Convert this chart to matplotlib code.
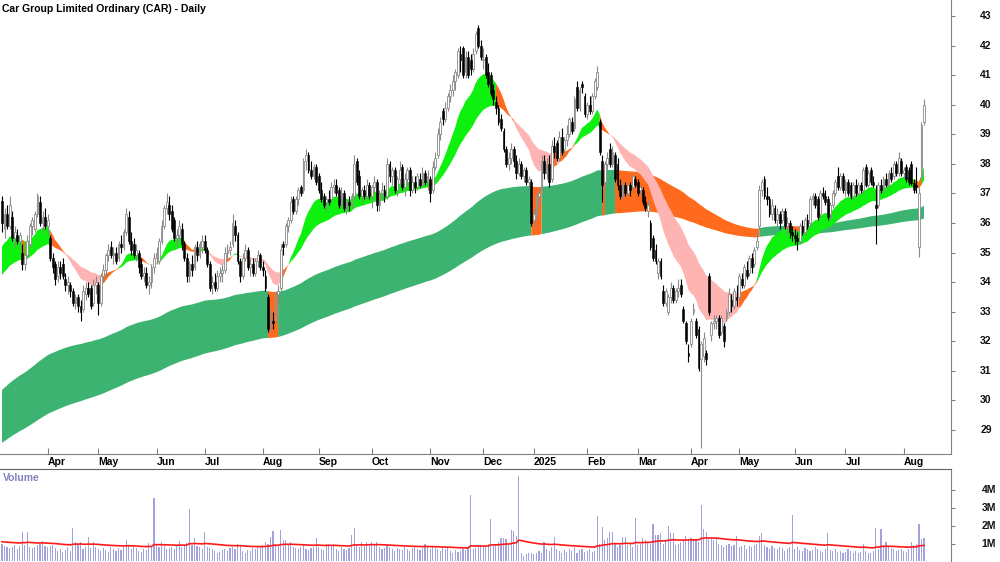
import numpy as np
import pandas as pd
import matplotlib
matplotlib.use("Agg")
import matplotlib.pyplot as plt
from matplotlib.transforms import blended_transform_factory

plt.rcParams['font.family'] = ['Liberation Sans', 'DejaVu Sans']

TITLE = "Car Group Limited Ordinary (CAR) - Daily"

# ASX trading calendar (holidays removed)
holidays = ['2024-03-29', '2024-04-01', '2024-04-25', '2024-06-10', '2024-12-25',
            '2024-12-26', '2025-01-01', '2025-01-27', '2025-04-18', '2025-04-21',
            '2025-04-25', '2025-06-09']

# ---- daily OHLC (open, high, low, close) ----
ohlc_2024_03 = [(36.75, 36.9, 35.7, 36.0), (35.8, 36.5, 35.5, 36.3), (36.3, 36.6, 35.8, 35.9),
                (35.9, 36.9, 35.8, 36.6), (36.2, 36.4, 35.4, 35.5), (35.5, 35.9, 35.2, 35.7),
                (35.6, 35.8, 35.3, 35.4), (35.4, 35.7, 35.1, 35.6), (35.0, 35.3, 34.4, 34.6),
                (34.6, 35.0, 34.4, 34.9), (34.9, 35.6, 34.8, 35.4), (35.3, 36.0, 35.2, 35.9),
                (35.9, 36.2, 35.6, 36.1), (35.8, 36.4, 35.7, 36.3), (36.3, 37.0, 36.2, 36.9),
                (36.7, 36.9, 35.9, 36.0), (36.0, 36.4, 35.7, 36.2), (36.2, 36.5, 35.8, 35.9)]
ohlc_2024_04 = [(35.9, 36.3, 35.6, 36.1), (35.5, 35.6, 34.7, 34.8), (34.8, 35.0, 34.3, 34.5),
                (34.6, 34.7, 33.9, 34.1), (34.2, 34.7, 34.0, 34.5), (34.5, 34.7, 34.1, 34.3),
                (34.6, 34.8, 34.1, 34.2), (34.1, 34.3, 33.7, 33.9), (33.9, 34.2, 33.6, 34.0),
                (33.9, 34.0, 33.5, 33.7), (33.7, 33.8, 33.2, 33.3), (33.3, 33.6, 33.1, 33.5),
                (33.5, 33.6, 33.0, 33.2), (33.2, 33.4, 32.7, 33.0), (33.1, 33.9, 33.0, 33.7),
                (33.6, 34.0, 33.4, 33.8), (33.8, 34.0, 33.5, 33.6), (33.8, 33.9, 33.1, 33.2),
                (33.3, 34.1, 33.2, 33.9), (33.9, 34.2, 33.6, 34.0)]
ohlc_2024_05 = [(33.9, 34.0, 32.9, 33.3), (33.3, 34.3, 33.2, 34.2), (34.2, 34.6, 34.0, 34.4),
                (34.4, 35.0, 34.2, 34.9), (34.9, 35.3, 34.7, 35.1), (35.2, 35.4, 34.8, 34.9),
                (34.9, 35.2, 34.6, 35.0), (35.0, 35.2, 34.6, 34.7), (34.8, 35.4, 34.7, 35.3),
                (35.3, 35.6, 35.0, 35.2), (35.2, 35.8, 35.1, 35.7), (35.7, 36.5, 35.6, 36.3),
                (36.2, 36.4, 35.3, 35.4), (35.4, 35.7, 34.9, 35.1), (35.3, 35.5, 34.8, 34.9),
                (34.9, 35.3, 34.7, 35.1), (35.0, 35.1, 34.3, 34.5), (34.6, 34.8, 34.1, 34.2),
                (34.2, 34.5, 34.0, 34.3), (34.3, 34.5, 33.8, 33.9), (33.9, 34.2, 33.6, 34.0),
                (34.0, 34.6, 33.8, 34.5), (34.5, 35.0, 34.3, 34.8)]
ohlc_2024_06 = [(34.8, 35.2, 34.6, 35.0), (34.7, 35.5, 34.6, 35.4), (35.4, 36.1, 35.3, 35.9),
                (35.9, 36.6, 35.8, 36.5), (36.5, 37.0, 36.3, 36.7), (36.6, 36.9, 36.1, 36.3),
                (36.4, 36.6, 35.7, 35.8), (36.1, 36.2, 35.4, 35.5), (35.5, 35.8, 35.2, 35.6),
                (35.6, 36.1, 35.4, 35.9), (35.8, 36.0, 35.1, 35.3), (35.3, 35.4, 34.7, 34.8),
                (34.8, 35.0, 34.0, 34.2), (34.2, 34.7, 34.0, 34.6), (34.6, 34.9, 34.2, 34.4),
                (34.5, 35.3, 34.4, 35.2), (35.2, 35.4, 34.7, 34.9), (34.9, 35.4, 34.8, 35.3),
                (35.2, 35.6, 35.0, 35.4)]
ohlc_2024_07 = [(35.4, 35.6, 35.0, 35.1), (35.1, 35.2, 34.5, 34.6), (34.6, 34.7, 33.7, 33.8),
                (33.9, 34.2, 33.6, 34.0), (34.0, 34.3, 33.7, 33.8), (33.8, 34.4, 33.7, 34.2),
                (34.2, 34.5, 34.0, 34.3), (34.3, 34.6, 34.0, 34.4), (34.4, 35.2, 34.3, 35.0),
                (35.0, 35.3, 34.8, 35.1), (35.1, 35.4, 34.9, 35.2), (35.3, 36.3, 35.2, 36.0),
                (35.9, 36.1, 35.4, 35.6), (35.6, 35.7, 34.6, 34.7), (34.7, 34.8, 34.0, 34.2),
                (34.2, 35.0, 34.1, 34.8), (34.8, 35.3, 34.7, 35.1), (35.1, 35.2, 34.4, 34.5),
                (34.5, 34.8, 34.2, 34.6), (34.6, 34.8, 34.2, 34.3), (34.3, 34.8, 34.2, 34.7),
                (34.7, 35.1, 34.5, 34.9), (34.9, 35.0, 34.4, 34.5)]
ohlc_2024_08 = [(34.5, 34.7, 34.2, 34.4), (34.2, 34.4, 33.7, 33.8), (33.5, 33.6, 32.3, 32.4),
                (32.6, 33.1, 32.3, 32.7), (32.7, 33.0, 32.4, 32.6), (32.7, 33.7, 32.6, 33.6),
                (33.6, 33.9, 33.3, 33.7), (33.8, 35.3, 33.7, 35.1), (35.3, 35.4, 34.9, 35.2),
                (35.3, 36.0, 35.2, 35.9), (35.9, 36.2, 35.7, 36.1), (36.1, 36.9, 36.0, 36.7),
                (36.8, 36.9, 36.3, 36.4), (36.4, 36.9, 36.3, 36.8), (36.8, 37.2, 36.6, 37.1),
                (37.2, 37.3, 36.9, 37.0), (37.1, 38.2, 37.0, 38.1), (38.1, 38.5, 37.8, 38.3),
                (38.3, 38.4, 37.7, 37.8), (37.8, 38.1, 37.5, 37.6), (37.6, 38.0, 37.5, 37.9),
                (37.9, 38.0, 37.3, 37.4)]
ohlc_2024_09 = [(37.6, 37.7, 37.0, 37.1), (37.1, 37.4, 36.7, 36.8), (36.9, 37.0, 36.5, 36.6),
                (36.7, 36.9, 36.4, 36.8), (36.8, 37.1, 36.6, 36.7), (36.8, 37.4, 36.7, 37.2),
                (37.2, 37.5, 37.0, 37.3), (37.3, 37.5, 36.9, 37.0), (37.1, 37.2, 36.5, 36.6),
                (36.6, 37.2, 36.5, 37.0), (37.0, 37.1, 36.4, 36.5), (36.5, 36.8, 36.3, 36.7),
                (36.7, 36.9, 36.4, 36.6), (36.6, 37.0, 36.5, 36.9), (36.9, 38.3, 36.8, 38.0),
                (38.1, 38.2, 37.3, 37.4), (37.6, 37.8, 36.8, 36.9), (36.9, 37.2, 36.7, 37.1),
                (37.1, 37.3, 36.8, 36.9), (36.9, 37.5, 36.8, 37.3), (37.3, 37.4, 36.8, 36.9)]
ohlc_2024_10 = [(36.9, 37.3, 36.5, 37.2), (37.2, 37.6, 37.0, 37.4), (37.4, 37.5, 36.4, 36.6),
                (36.6, 37.1, 36.4, 37.0), (37.0, 37.4, 36.8, 37.1), (37.1, 37.3, 36.7, 36.9),
                (36.9, 38.2, 36.8, 38.0), (38.0, 38.1, 37.4, 37.6), (37.6, 37.9, 37.3, 37.8),
                (37.8, 37.9, 37.0, 37.1), (37.1, 37.6, 36.9, 37.5), (37.5, 38.1, 37.3, 37.8),
                (37.9, 38.0, 37.1, 37.2), (37.2, 37.7, 36.9, 37.5), (37.5, 37.9, 37.3, 37.8),
                (37.8, 37.9, 36.9, 37.1), (37.1, 37.6, 37.0, 37.4), (37.4, 37.6, 37.0, 37.2),
                (37.2, 37.7, 37.1, 37.6), (37.5, 37.7, 37.2, 37.3), (37.3, 37.9, 37.2, 37.7),
                (37.7, 37.8, 37.3, 37.4), (37.4, 37.8, 37.1, 37.6)]
ohlc_2024_11 = [(37.5, 37.6, 36.7, 37.0), (37.1, 38.1, 37.0, 37.9), (37.9, 38.4, 37.8, 38.2),
                (38.3, 39.2, 38.2, 39.0), (39.0, 39.6, 38.8, 39.4), (39.8, 39.9, 39.3, 39.5),
                (39.5, 40.1, 39.4, 39.9), (39.9, 40.4, 39.8, 40.3), (40.3, 40.7, 40.1, 40.5),
                (40.5, 41.0, 40.3, 40.8), (40.8, 41.2, 40.5, 41.1), (41.0, 41.9, 40.9, 41.8),
                (41.7, 42.0, 41.1, 41.5), (41.9, 42.0, 40.9, 41.0), (41.1, 41.8, 40.9, 41.6),
                (41.6, 41.8, 40.9, 41.0), (41.5, 41.7, 41.0, 41.2), (41.2, 41.9, 41.1, 41.7),
                (41.8, 42.5, 41.7, 42.4), (42.6, 42.7, 41.9, 42.0), (42.0, 42.2, 41.5, 41.6)]
ohlc_2024_12 = [(41.5, 41.9, 41.2, 41.55), (41.6, 41.7, 40.9, 41.0), (41.1, 41.4, 40.6, 40.7),
                (41.0, 41.1, 40.3, 40.4), (40.5, 40.7, 40.0, 40.2), (40.1, 40.3, 39.7, 39.9),
                (39.9, 40.0, 39.3, 39.4), (39.5, 39.7, 39.1, 39.2), (39.1, 39.2, 38.4, 38.5),
                (38.5, 38.6, 37.9, 38.0), (38.0, 38.4, 37.8, 38.2), (38.2, 38.7, 38.0, 38.5),
                (38.5, 38.6, 37.9, 38.1), (38.1, 38.3, 37.5, 37.7), (37.7, 38.2, 37.6, 38.0),
                (38.0, 38.1, 37.5, 37.6), (37.6, 37.9, 37.4, 37.8), (37.8, 37.9, 37.3, 37.4),
                (37.4, 37.6, 37.2, 37.5), (37.4, 37.5, 35.9, 36.0)]
ohlc_2025_01 = [(36.1, 36.5, 35.9, 36.3), (36.3, 37.0, 36.1, 36.9), (36.9, 37.2, 36.6, 37.0),
                (37.1, 38.3, 37.0, 38.1), (38.1, 38.3, 37.5, 37.7), (37.7, 38.2, 37.5, 38.0),
                (38.0, 38.3, 37.2, 37.4), (37.5, 38.8, 37.4, 38.6), (38.6, 38.9, 38.2, 38.4),
                (38.7, 38.8, 38.1, 38.2), (38.2, 39.1, 38.1, 38.9), (38.9, 39.2, 38.3, 38.4),
                (38.5, 38.9, 38.3, 38.8), (38.8, 39.3, 38.6, 39.0), (39.0, 39.6, 38.9, 39.5),
                (39.4, 39.6, 39.0, 39.1), (39.2, 40.3, 39.1, 40.2), (40.6, 40.8, 39.8, 39.9),
                (39.9, 40.6, 39.8, 40.5), (40.7, 40.8, 40.4, 40.6), (40.3, 40.4, 39.6, 39.7)]
ohlc_2025_02 = [(39.7, 40.1, 39.5, 40.0), (40.0, 40.3, 39.7, 39.8), (39.8, 40.4, 39.7, 40.3),
                (40.3, 40.9, 40.2, 40.8), (40.6, 41.3, 40.5, 41.1), (39.4, 39.5, 38.3, 38.4),
                (38.1, 38.3, 36.7, 37.3), (37.4, 38.1, 37.2, 38.0), (38.0, 38.4, 37.8, 38.2),
                (38.5, 38.7, 37.9, 38.0), (38.0, 38.6, 37.9, 38.4), (38.3, 38.4, 37.4, 37.5),
                (38.0, 38.2, 37.1, 37.3), (37.3, 37.5, 36.8, 36.9), (36.9, 37.4, 36.8, 37.3),
                (37.3, 37.4, 36.9, 37.0), (37.0, 37.4, 36.9, 37.3), (37.3, 37.4, 36.9, 37.1),
                (37.2, 37.7, 37.1, 37.6), (37.5, 37.6, 37.2, 37.3)]
ohlc_2025_03 = [(37.4, 37.5, 36.9, 37.0), (37.1, 37.3, 36.9, 37.2), (37.1, 37.2, 36.6, 36.7),
                (36.7, 36.9, 36.4, 36.5), (36.4, 36.8, 36.2, 36.6), (36.0, 36.1, 35.1, 35.2),
                (35.5, 35.6, 34.7, 34.8), (35.1, 35.3, 34.6, 34.7), (34.3, 34.8, 34.1, 34.7),
                (34.7, 34.8, 34.1, 34.2), (33.7, 33.9, 33.2, 33.3), (33.3, 33.8, 33.2, 33.7),
                (33.0, 33.6, 32.9, 33.5), (33.5, 34.0, 33.3, 33.8), (33.8, 33.9, 33.3, 33.4),
                (33.4, 33.8, 33.3, 33.7), (33.7, 34.1, 33.5, 33.8), (33.9, 34.1, 33.5, 33.6),
                (33.1, 33.2, 32.6, 32.7), (32.6, 32.7, 31.9, 32.0), (31.6, 31.9, 31.3, 31.5)]
ohlc_2025_04 = [(31.9, 32.8, 31.8, 32.7), (33.0, 33.3, 32.9, 33.1), (32.7, 32.8, 32.1, 32.2),
                (32.4, 32.5, 31.0, 31.1), (31.4, 32.0, 28.4, 31.9), (31.5, 32.3, 31.3, 32.1),
                (31.6, 31.7, 31.2, 31.4), (34.2, 34.3, 32.9, 33.0), (32.2, 32.7, 32.0, 32.6),
                (32.6, 32.9, 32.4, 32.7), (32.7, 32.9, 32.4, 32.8), (32.8, 32.9, 32.1, 32.2),
                (32.3, 32.9, 32.2, 32.8), (32.5, 32.6, 31.8, 32.0), (32.8, 33.1, 32.7, 33.0),
                (33.0, 33.8, 32.9, 33.6), (33.4, 33.6, 33.0, 33.2), (33.2, 33.8, 33.1, 33.7),
                (33.5, 33.9, 33.2, 33.4)]
ohlc_2025_05 = [(33.5, 34.3, 33.4, 34.2), (34.1, 34.3, 33.8, 33.9), (33.9, 34.6, 33.8, 34.5),
                (34.4, 34.7, 34.1, 34.2), (34.3, 34.9, 34.2, 34.8), (34.8, 35.0, 34.3, 34.5),
                (34.6, 35.2, 34.5, 35.1), (35.2, 35.7, 35.1, 35.4), (35.9, 37.3, 35.8, 37.1),
                (37.1, 37.5, 36.9, 37.4), (37.5, 37.6, 36.8, 36.9), (36.9, 37.2, 36.6, 36.8),
                (36.8, 36.9, 36.2, 36.3), (36.3, 36.8, 36.1, 36.6), (36.5, 36.6, 36.0, 36.1),
                (36.1, 36.5, 35.9, 36.3), (36.3, 36.4, 35.8, 36.0), (36.1, 36.5, 36.0, 36.4),
                (36.4, 36.5, 35.8, 35.9), (35.9, 36.2, 35.6, 36.0), (36.0, 36.1, 35.5, 35.7),
                (35.7, 35.9, 35.4, 35.6)]
ohlc_2025_06 = [(35.6, 35.8, 35.3, 35.5), (35.5, 35.7, 35.1, 35.4), (35.4, 36.0, 35.3, 35.9),
                (35.9, 36.1, 35.6, 35.7), (35.7, 36.2, 35.6, 36.1), (36.1, 36.3, 35.8, 35.9),
                (36.0, 36.9, 35.9, 36.8), (36.8, 37.0, 36.6, 36.9), (36.9, 37.0, 36.5, 36.6),
                (36.8, 36.9, 36.1, 36.2), (36.3, 37.1, 36.2, 37.0), (37.0, 37.2, 36.8, 36.9),
                (36.9, 37.1, 36.6, 36.7), (36.8, 36.9, 36.1, 36.2), (36.3, 36.7, 36.1, 36.6),
                (36.6, 37.1, 36.5, 37.0), (37.0, 37.5, 36.9, 37.4), (37.6, 37.9, 37.1, 37.2),
                (37.2, 37.7, 37.1, 37.6), (37.6, 37.7, 37.0, 37.1)]
ohlc_2025_07 = [(37.1, 37.5, 36.9, 37.4), (37.4, 37.5, 36.9, 37.0), (37.3, 37.4, 36.8, 36.9),
                (36.9, 37.4, 36.8, 37.3), (37.3, 37.5, 36.9, 37.0), (37.0, 37.4, 36.9, 37.3),
                (37.3, 37.4, 37.0, 37.1), (37.1, 37.9, 37.0, 37.8), (37.9, 38.0, 37.2, 37.3),
                (37.3, 37.8, 37.2, 37.7), (37.8, 37.9, 37.3, 37.4), (37.4, 37.6, 37.2, 37.3),
                (36.6, 37.3, 35.3, 36.5), (36.6, 37.4, 36.5, 37.3), (37.3, 37.5, 37.0, 37.1),
                (37.1, 37.6, 37.0, 37.5), (37.5, 37.7, 37.2, 37.3), (37.3, 37.8, 37.2, 37.7),
                (37.7, 37.9, 37.4, 37.5), (37.6, 38.1, 37.5, 38.0), (38.0, 38.1, 37.6, 37.7),
                (37.7, 38.4, 37.6, 38.2), (38.1, 38.2, 37.6, 37.7)]
ohlc_2025_08 = [(37.7, 37.9, 37.5, 37.8), (37.9, 38.0, 37.4, 37.5), (37.8, 37.9, 37.3, 37.4),
                (38.0, 38.1, 37.3, 37.35), (37.35, 37.5, 37.0, 37.1), (37.3, 37.9, 37.0, 37.2),
                (35.2, 37.2, 34.85, 37.0), (37.6, 39.4, 37.5, 39.3), (39.4, 40.2, 39.3, 40.0)]

# ---- daily volume (millions) ----
vol_2024_03 = [0.95, 0.85, 0.8, 0.75, 0.8, 0.9, 0.7, 0.85, 1.67, 0.9, 1.67, 0.8, 0.75, 0.8, 0.9, 1.0, 1.17, 0.85]
vol_2024_04 = [0.8, 0.85, 0.9, 0.75, 0.6, 0.7, 0.55, 0.65, 0.8, 0.6, 1.88, 1.1, 1.0, 1.1, 0.7, 0.8, 1.36, 0.75, 1.1, 0.8]
vol_2024_05 = [0.7, 0.6, 0.75, 0.65, 0.55, 0.8, 0.7, 0.6, 0.75, 0.65, 0.8, 1.2, 0.9, 0.7, 0.8, 0.75, 0.6, 0.55, 0.7, 0.65, 1.05, 0.8, 3.55]
vol_2024_06 = [0.9, 0.8, 1.1, 0.85, 0.7, 0.75, 0.8, 0.7, 0.85, 1.15, 0.8, 0.9, 1.05, 2.94, 0.9, 1.32, 0.85, 0.8, 0.7]
vol_2024_07 = [1.64, 0.8, 0.75, 0.7, 0.6, 0.5, 0.55, 0.65, 0.7, 0.6, 0.75, 0.8, 0.7, 1.0, 0.85, 0.6, 0.5, 0.65, 0.6, 0.75, 0.7, 0.8, 0.85]
vol_2024_08 = [0.9, 1.1, 1.0, 1.39, 1.71, 1.0, 0.9, 1.76, 1.2, 1.2, 0.9, 1.1, 0.8, 0.75, 0.7, 0.8, 0.9, 0.7, 0.65, 0.75, 0.8, 1.32]
vol_2024_09 = [0.8, 0.7, 0.65, 1.0, 0.95, 0.9, 1.0, 0.7, 0.6, 0.8, 0.7, 0.65, 0.75, 1.5, 1.88, 0.9, 0.8, 1.1, 0.85, 1.1, 1.0]
vol_2024_10 = [1.1, 0.9, 1.1, 0.8, 0.7, 0.75, 0.9, 0.8, 0.7, 0.6, 0.75, 0.7, 0.65, 0.8, 0.7, 0.6, 0.75, 0.8, 0.7, 0.65, 0.75, 1.0, 0.8]
vol_2024_11 = [0.7, 0.8, 0.75, 0.7, 0.6, 0.8, 0.7, 0.75, 0.6, 0.5, 0.65, 0.55, 0.6, 0.7, 0.65, 0.8, 3.72, 0.7, 0.75, 0.8, 0.9]
vol_2024_12 = [0.85, 0.8, 1.0, 2.38, 0.9, 1.0, 1.1, 1.3, 1.3, 1.25, 0.9, 1.76, 1.72, 1.45, 4.8, 0.5, 0.3, 0.4, 0.45, 0.5]
vol_2025_01 = [0.4, 0.45, 0.6, 0.5, 1.1, 0.7, 0.6, 0.8, 1.39, 0.7, 0.6, 0.5, 0.65, 0.55, 0.7, 0.6, 0.8, 0.5, 0.65, 0.7, 0.55]
vol_2025_02 = [0.6, 0.7, 0.55, 0.6, 2.53, 1.0, 1.95, 1.2, 1.33, 1.65, 1.65, 1.0, 0.8, 0.9, 1.36, 1.36, 0.9, 1.0, 0.8, 2.44]
vol_2025_03 = [0.9, 1.0, 1.33, 1.2, 1.1, 1.0, 2.1, 1.5, 1.5, 1.6, 1.0, 1.2, 2.0, 1.6, 1.6, 0.9, 1.0, 1.1, 1.2, 1.4, 1.25]
vol_2025_04 = [1.3, 1.2, 1.25, 1.1, 3.18, 1.82, 1.67, 1.25, 1.25, 1.2, 1.25, 1.0, 0.9, 0.8, 0.9, 1.0, 0.85, 0.9, 1.4]
vol_2025_05 = [0.8, 0.85, 0.9, 0.7, 0.85, 0.8, 0.9, 0.95, 1.4, 1.6, 0.9, 0.8, 0.7, 0.85, 0.75, 0.7, 0.8, 0.75, 0.6, 0.7, 0.8, 2.62]
vol_2025_06 = [0.7, 0.8, 0.65, 0.6, 0.75, 0.7, 0.6, 0.65, 0.8, 0.7, 0.6, 0.55, 0.7, 1.6, 0.65, 0.6, 0.7, 0.55, 0.6, 0.5]
vol_2025_07 = [0.55, 0.7, 0.6, 0.5, 0.6, 0.45, 0.55, 1.0, 0.6, 0.5, 0.45, 0.6, 1.88, 0.7, 1.82, 0.9, 1.1, 0.8, 0.75, 0.7, 0.6, 0.65, 0.7]
vol_2025_08 = [0.6, 0.55, 0.7, 1.1, 0.9, 1.0, 2.1, 1.25, 1.3]

# moving-average ribbons: periods and starting levels read at the first bar
short_periods = (16, 36)
short_start = (35.2, 34.24)
long_periods = (150, 250)
long_start = (30.35, 28.56)
vol_ma_period = 50
vol_ma_start = 1.1

price_ticks = list(range(29, 44))
vol_ticks = [1, 2, 3, 4]

# ------------------------------------------------------------------
months = [ohlc_2024_03, ohlc_2024_04, ohlc_2024_05, ohlc_2024_06, ohlc_2024_07, ohlc_2024_08,
          ohlc_2024_09, ohlc_2024_10, ohlc_2024_11, ohlc_2024_12, ohlc_2025_01, ohlc_2025_02,
          ohlc_2025_03, ohlc_2025_04, ohlc_2025_05, ohlc_2025_06, ohlc_2025_07, ohlc_2025_08]
vmonths = [vol_2024_03, vol_2024_04, vol_2024_05, vol_2024_06, vol_2024_07, vol_2024_08,
           vol_2024_09, vol_2024_10, vol_2024_11, vol_2024_12, vol_2025_01, vol_2025_02,
           vol_2025_03, vol_2025_04, vol_2025_05, vol_2025_06, vol_2025_07, vol_2025_08]
ohlc = np.array([row for m in months for row in m], dtype=float)
vol = np.array([v for m in vmonths for v in m], dtype=float)
o, h, l, c = ohlc.T

dates = pd.bdate_range('2024-03-05', '2025-08-13')
dates = dates[~dates.isin(pd.to_datetime(holidays))]
n = len(c)
dates = dates[:n]
x = np.arange(n)


def ema(values, period, start):
    a = 2.0 / (period + 1)
    out = np.empty(len(values))
    e = start
    for i, v in enumerate(values):
        if i > 0:
            e = e + a * (v - e)
        out[i] = e
    return out


s_fast = ema(c, short_periods[0], short_start[0])
s_slow = ema(c, short_periods[1], short_start[1])
l_fast = ema(c, long_periods[0], long_start[0])
l_slow = ema(c, long_periods[1], long_start[1])
vol_ma = ema(vol, vol_ma_period, vol_ma_start)

GREEN = '#0ef00e'
ORANGE = '#ff6a1c'
PINK = '#ffb4b4'
DKGREEN = '#3cb371'

s_lo = np.minimum(s_fast, s_slow)
s_hi = np.maximum(s_fast, s_slow)
s_col = np.where(s_fast >= s_slow,
                 np.where(c < s_lo, ORANGE, GREEN),
                 np.where(c > s_hi, ORANGE, PINK))
l_lo = np.minimum(l_fast, l_slow)
l_hi = np.maximum(l_fast, l_slow)
l_col = np.where(c > l_hi, DKGREEN, ORANGE)

fig = plt.figure(figsize=(10, 5.62), dpi=100)
H = 562.0
ax = fig.add_axes([0, 1 - 454 / H, 0.951, 454 / H])
axv = fig.add_axes([0, 0, 0.951, 93 / H])

xmin, xmax = -0.79, 374.66


def ribbon(axis, lo, hi, cols, z):
    for col in np.unique(cols):
        m = cols == col
        m2 = m.copy()
        m2[1:] |= m[:-1]
        axis.fill_between(x, lo, hi, where=m2, color=col, lw=0, zorder=z,
                          interpolate=False)


ribbon(ax, l_lo, l_hi, l_col, 1)
ribbon(ax, s_lo, s_hi, s_col, 2)

up = c >= o
wick_col = np.where(up, '#8a8a8a', '#000000')
ax.vlines(x, l, h, colors=wick_col, lw=0.8, zorder=3)
body_lo = np.minimum(o, c)
body_h = np.maximum(np.abs(c - o), 0.04)
ax.bar(x[up], body_h[up], bottom=body_lo[up], width=0.72, color='white',
       edgecolor='#8a8a8a', lw=0.6, zorder=4)
ax.bar(x[~up], body_h[~up], bottom=body_lo[~up], width=0.72, color='black',
       edgecolor='black', lw=0.4, zorder=4)

ax.set_xlim(xmin, xmax)
ax.set_ylim(43.54 - 454 / 29.57, 43.54)

# month ticks
mon = dates.month
tick_idx = [i for i in range(1, n) if mon[i] != mon[i - 1]]
tick_lab = [('%d' % dates[i].year) if dates[i].month == 1 else dates[i].strftime('%b')
            for i in tick_idx]
ax.set_xticks(tick_idx)
ax.set_xticklabels(tick_lab, ha='left', fontsize=7.5, fontweight='bold')
ax.tick_params(axis='x', direction='in', length=4, width=0.8, color='#808080', pad=2)

ax.yaxis.tick_right()
ax.set_yticks(price_ticks)
ax.tick_params(axis='y', direction='out', length=3, width=0.8, color='#808080',
               labelright=False, labelleft=False)
tr = blended_transform_factory(ax.transAxes, ax.transData)
for v in price_ticks:
    ax.text(986 / 951, v, str(v), transform=tr, ha='center', va='center',
            fontsize=7.5, fontweight='bold', color='#111111')

for s in ('top', 'left'):
    ax.spines[s].set_visible(False)
ax.spines['right'].set_color('#808080')
ax.spines['bottom'].set_color('#808080')

fig.text(2 / 1000, 1 - 9 / H, TITLE, ha='left', va='center', fontsize=7.5,
         fontweight='bold')

# volume panel
axv.bar(x, vol, width=0.45, color='#a2a2dc', lw=0, zorder=2)
axv.plot(x, vol_ma, color='#ff1a1a', lw=1.2, zorder=3)
axv.set_xlim(xmin, xmax)
axv.set_ylim(-0.03, 93 / 17.9 - 0.03)
axv.set_xticks([])
axv.yaxis.tick_right()
axv.set_yticks(vol_ticks)
axv.tick_params(axis='y', direction='out', length=3, width=0.8, color='#808080',
                labelright=False, labelleft=False)
trv = blended_transform_factory(axv.transAxes, axv.transData)
for v in vol_ticks:
    axv.text(989 / 951, v, '%dM' % v, transform=trv, ha='center', va='center',
             fontsize=7.5, fontweight='bold', color='#111111')
axv.text(3 / 951, (H - 478) / 93, 'Volume', transform=axv.transAxes, ha='left',
         va='center', fontsize=7.5, fontweight='bold', color='#8282c2')
for s in ('left', 'bottom'):
    axv.spines[s].set_visible(False)
axv.spines['top'].set_color('#606060')
axv.spines['right'].set_color('#808080')

fig.savefig('out.png', dpi=100)
